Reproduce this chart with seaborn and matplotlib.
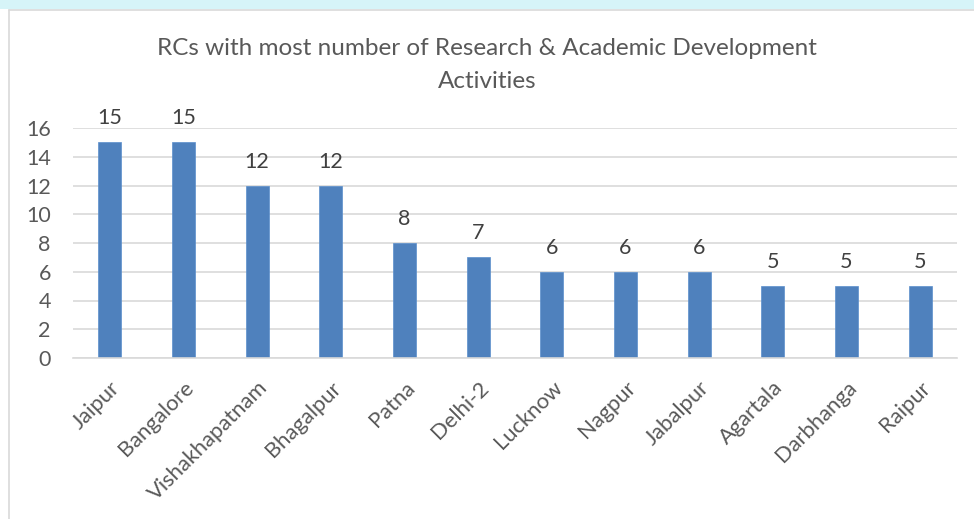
import matplotlib
matplotlib.use("Agg")
import matplotlib.pyplot as plt
import seaborn as sns
import pandas as pd
from matplotlib.patches import Rectangle
from matplotlib.lines import Line2D

categories = ["Jaipur", "Bangalore", "Vishakhapatnam", "Bhagalpur", "Patna", "Delhi-2",
              "Lucknow", "Nagpur", "Jabalpur", "Agartala", "Darbhanga", "Raipur"]
values = [15, 15, 12, 12, 8, 7, 6, 6, 6, 5, 5, 5]
yticks = [0, 2, 4, 6, 8, 10, 12, 14, 16]
title = "RCs with most number of Research & Academic Development\nActivities"

sns.set_theme(style="white")
plt.rcParams['font.family'] = ['Lato', 'DejaVu Sans']

df = pd.DataFrame({"RC": categories, "Count": values})

fig = plt.figure(figsize=(9.74, 5.19), dpi=100)
fig.patch.set_facecolor("white")
ax = fig.add_axes([73/974, 1-358/519, (957-73)/974, (358-128)/519])

sns.barplot(data=df, x="RC", y="Count", ax=ax, color="#4F81BD", width=0.31,
            saturation=1, edgecolor="#5B8FCC", linewidth=0.5)

ax.set_ylim(0, 16)
ax.set_yticks(yticks)
ax.set_yticklabels([str(t) for t in yticks], fontsize=15.5, color="#595959")
ax.yaxis.grid(True, color="#D9D9D9", linewidth=1.2)
ax.set_axisbelow(True)
for s in ["top", "right", "left"]:
    ax.spines[s].set_visible(False)
ax.spines["bottom"].set_color("#D9D9D9")
ax.spines["bottom"].set_linewidth(1.2)
ax.tick_params(axis="y", length=0, pad=16)
ax.tick_params(axis="x", length=0, pad=14)
ax.set_xticks(range(len(categories)))
ax.set_xticklabels(categories, rotation=45, ha="right", rotation_mode="anchor",
                   fontsize=15.8, color="#595959")
ax.set_xlabel("")
ax.set_ylabel("")
ax.set_xlim(-0.5, len(categories) - 0.5)

for c in ax.containers:
    ax.bar_label(c, labels=[str(v) for v in values], padding=10, fontsize=15.5, color="#404040")

fig.text(0.5, 1-65/519, title, ha="center", va="center", fontsize=17.5,
         color="#595959", linespacing=1.75)

# decorative background strip and frame
fig.patches.append(Rectangle((0, 1-9/519), 1, 9/519, transform=fig.transFigure,
                             facecolor="#D6F4F8", edgecolor="none", zorder=0))
fig.lines.append(Line2D([9/974, 1], [1-10/519, 1-10/519], transform=fig.transFigure,
                        color="#D9D9D9", linewidth=1.2))
fig.lines.append(Line2D([9/974, 9/974], [0, 1-10/519], transform=fig.transFigure,
                        color="#D9D9D9", linewidth=1.2))

fig.savefig("out.png", dpi=100)
